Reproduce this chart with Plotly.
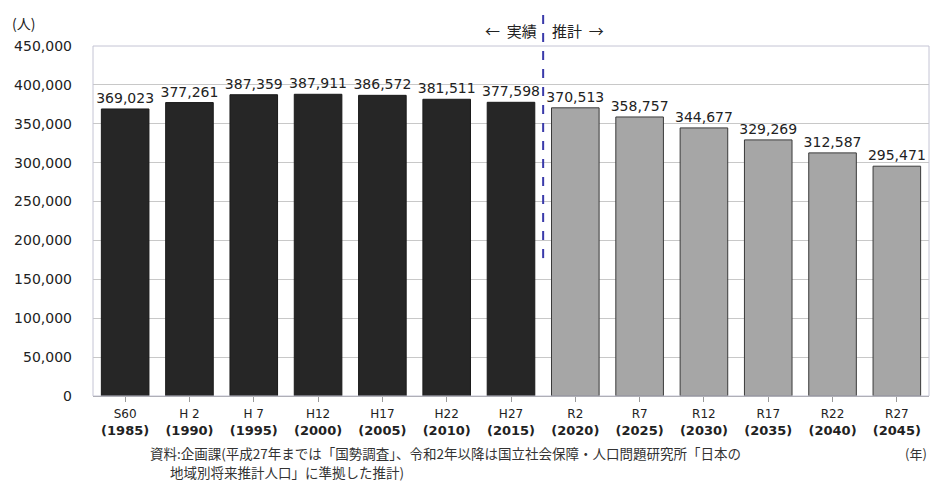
import plotly.graph_objects as go

era_labels = ["S60", "H 2", "H 7", "H12", "H17", "H22", "H27", "R2", "R7", "R12", "R17", "R22", "R27"]
year_labels = ["1985", "1990", "1995", "2000", "2005", "2010", "2015", "2020", "2025", "2030", "2035", "2040", "2045"]
actual_values = [369023, 377261, 387359, 387911, 386572, 381511, 377598]
projected_values = [370513, 358757, 344677, 329269, 312587, 295471]
y_ticks = [0, 50000, 100000, 150000, 200000, 250000, 300000, 350000, 400000, 450000]
note_lines = [
    "資料:企画課(平成27年までは「国勢調査」、令和2年以降は国立社会保障・人口問題研究所「日本の",
    "地域別将来推計人口」に準拠した推計)",
]

CJK = "Noto Sans CJK JP"
NUM = "DejaVu Sans, Noto Sans CJK JP"
values = actual_values + projected_values
colors = ["#262626"] * len(actual_values) + ["#a6a6a6"] * len(projected_values)
line_colors = ["#1a1a1a"] * len(actual_values) + ["#3a3a3a"] * len(projected_values)
ticktext = [f"<span style='font-size:12px'>{e}</span><br><b>({y})</b>" for e, y in zip(era_labels, year_labels)]

# page body has an 8px margin at top-left; figure fills the rest of the window
W, H = 930, 478

fig = go.Figure()
fig.add_trace(go.Bar(
    x=list(range(len(values))), y=values,
    marker=dict(color=colors, line=dict(color=line_colors, width=1)),
    width=0.74,
    text=[f"{v:,}" for v in values], textposition="outside",
    textfont=dict(family=NUM, size=14, color="#222"),
    constraintext="none", cliponaxis=False,
))

fig.update_layout(
    width=W, height=H,
    margin=dict(l=85, r=9, t=38, b=90),
    plot_bgcolor="white", paper_bgcolor="white",
    showlegend=False,
    font=dict(family=CJK, color="#222"),
)
fig.update_xaxes(
    tickmode="array", tickvals=list(range(len(values))), ticktext=ticktext,
    range=[-0.5, len(values) - 0.5],
    tickfont=dict(family=NUM, size=13, color="#222"),
    showline=True, linecolor="#9a9a9a", linewidth=1,
    ticks="outside", tickson="boundaries", ticklen=5, tickcolor="#9a9a9a",
    showgrid=False, automargin=False,
)
fig.update_yaxes(
    range=[0, 450000], tickvals=y_ticks,
    ticktext=[f"{v:,}" for v in y_ticks],
    tickfont=dict(family=NUM, size=14, color="#222"),
    showgrid=True, gridcolor="#c8c8c8", gridwidth=1,
    zeroline=False, showline=False, ticks="",
    ticklabelstandoff=20, automargin=False,
)
# plot border
fig.add_shape(type="rect", xref="paper", yref="paper", x0=0, x1=1, y0=0, y1=1,
              line=dict(color="#c4c4d4", width=1), fillcolor="rgba(0,0,0,0)", layer="above")
# divider between actual and projected
fig.add_shape(type="line", xref="x", yref="paper", x0=6.5, x1=6.5, y0=0.394, y1=1.108,
              line=dict(color="#3a3aaa", width=2, dash="dash"))

fig.add_annotation(text="(人)", xref="paper", yref="paper", x=-0.083, y=1.065,
                   showarrow=False, xanchor="center", yanchor="middle",
                   font=dict(family=CJK, size=14, color="#222"))
fig.add_annotation(text="←  実績", xref="x", yref="paper", x=6.44, y=1.043,
                   showarrow=False, xanchor="right", yanchor="middle",
                   font=dict(family=CJK, size=15, color="#222"))
fig.add_annotation(text="推計  →", xref="x", yref="paper", x=6.6, y=1.043,
                   showarrow=False, xanchor="left", yanchor="middle",
                   font=dict(family=CJK, size=15, color="#222"))
fig.add_annotation(text=note_lines[0], xref="paper", yref="paper", x=0.066, y=-0.163,
                   showarrow=False, xanchor="left", yanchor="middle", align="left",
                   font=dict(family=CJK, size=13.5, color="#333"))
fig.add_annotation(text=note_lines[1], xref="paper", yref="paper", x=0.09, y=-0.217,
                   showarrow=False, xanchor="left", yanchor="middle", align="left",
                   font=dict(family=CJK, size=13.5, color="#333"))
fig.add_annotation(text="(年)", xref="paper", yref="paper", x=1.0, y=-0.163,
                   showarrow=False, xanchor="right", yanchor="middle",
                   font=dict(family=CJK, size=13, color="#333"))

fig.write_html("out.html")
